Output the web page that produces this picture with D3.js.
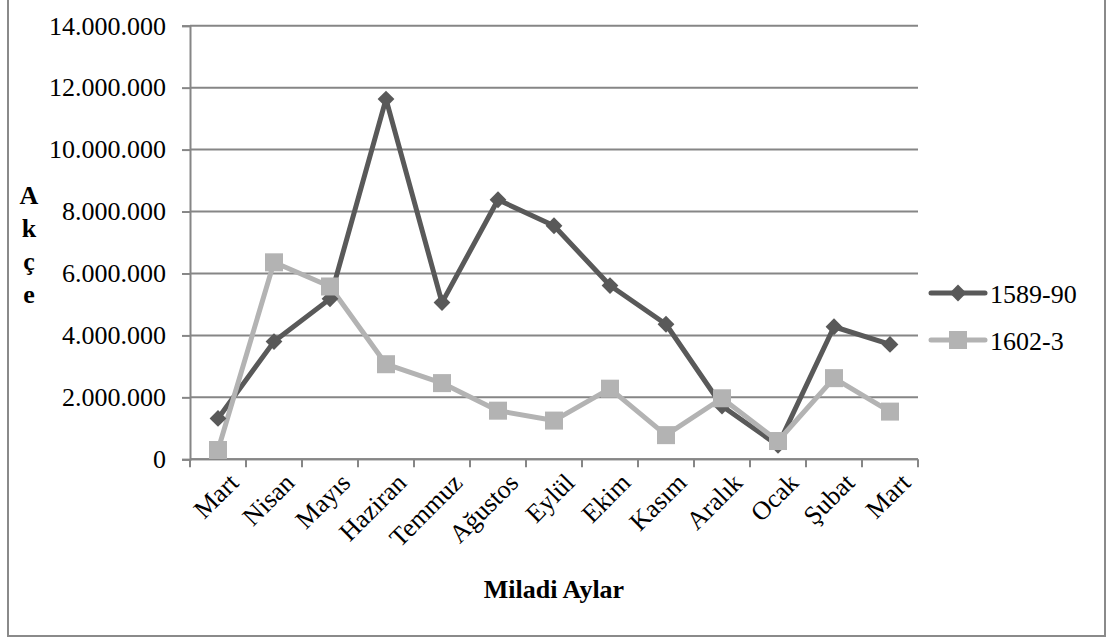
<!DOCTYPE html>
<html>
<head>
<meta charset="utf-8">
<script src="https://cdn.jsdelivr.net/npm/d3@7"></script>
<style>
  html, body { margin: 0; padding: 0; background: #fff; }
  svg { display: block; font-family: "Liberation Serif", "Times New Roman", serif; }
</style>
</head>
<body>
<svg id="chart" width="1109" height="640"></svg>
<script>
const months = ["Mart", "Nisan", "Mayıs", "Haziran", "Temmuz", "Ağustos", "Eylül", "Ekim", "Kasım", "Aralık", "Ocak", "Şubat", "Mart"];
const series1Name = "1589-90";
const series1 = [1320000, 3800000, 5180000, 11630000, 5060000, 8380000, 7540000, 5610000, 4360000, 1720000, 450000, 4280000, 3710000];
const series2Name = "1602-3";
const series2 = [300000, 6360000, 5580000, 3070000, 2460000, 1570000, 1250000, 2280000, 780000, 1970000, 590000, 2620000, 1540000];
const yTicks = [0, 2000000, 4000000, 6000000, 8000000, 10000000, 12000000, 14000000];
const yTitle = ["A", "k", "ç", "e"];
const xTitle = "Miladi Aylar";

const svg = d3.select("#chart");
const gridColor = "#868686";
const c1 = "#595959", c2 = "#b3b3b3";

// outer frame
svg.append("rect").attr("x", 8).attr("y", -5).attr("width", 1097).attr("height", 641)
  .attr("fill", "none").attr("stroke", "#8a8a8a").attr("stroke-width", 2);

const idx = d3.range(months.length);
const x = d3.scaleBand().domain(idx).range([190, 918]).paddingInner(0).paddingOuter(0);
const y = d3.scaleLinear().domain([0, 14000000]).range([459.3, 25.7]);

const loc = d3.formatLocale({decimal: ",", thousands: ".", grouping: [3], currency: ["", ""]});
const fmt = loc.format(",d");

// gridlines
svg.append("g").selectAll("line").data(yTicks).join("line")
  .attr("x1", 190).attr("x2", 918)
  .attr("y1", d => y(d)).attr("y2", d => y(d))
  .attr("stroke", gridColor).attr("stroke-width", 2);

// y axis
const yAxis = svg.append("g").attr("transform", "translate(190,0)")
  .call(d3.axisLeft(y).tickValues(yTicks).tickFormat(fmt).tickSize(8).tickPadding(16));
yAxis.select(".domain").attr("stroke", gridColor).attr("stroke-width", 2);
yAxis.selectAll(".tick line").attr("stroke", gridColor).attr("stroke-width", 2);
yAxis.selectAll(".tick text").attr("font-size", 26).attr("fill", "#000")
  .attr("font-family", "Liberation Serif, serif");

// x axis (ticks at band boundaries)
const xg = svg.append("g");
xg.append("line").attr("x1", 190).attr("x2", 918).attr("y1", y(0)).attr("y2", y(0))
  .attr("stroke", gridColor).attr("stroke-width", 2);
const bounds = idx.map(i => x(i)).concat([x(idx[idx.length - 1]) + x.bandwidth()]);
xg.selectAll("line.tk").data(bounds).join("line").attr("class", "tk")
  .attr("x1", d => d).attr("x2", d => d).attr("y1", y(0)).attr("y2", y(0) + 8)
  .attr("stroke", gridColor).attr("stroke-width", 2);
xg.selectAll("text").data(idx).join("text")
  .attr("transform", i => `translate(${x(i) + x.bandwidth() / 2 + 22},${y(0) + 25}) rotate(-45)`)
  .attr("text-anchor", "end")
  .attr("font-size", 26).attr("fill", "#000")
  .text(i => months[i]);

// axis titles
svg.append("text").attr("x", 554).attr("y", 598).attr("text-anchor", "middle")
  .attr("font-size", 26).attr("font-weight", "bold").text(xTitle);
svg.append("g").selectAll("text").data(yTitle).join("text")
  .attr("x", 29).attr("y", (d, i) => 204 + i * 33).attr("text-anchor", "middle")
  .attr("font-size", 26).attr("font-weight", "bold").text(d => d);

const cx = i => x(i) + x.bandwidth() / 2;
const line = d3.line().x((d, i) => cx(i)).y(d => y(d));

// series 1 line
svg.append("path").datum(series1).attr("d", line).attr("fill", "none")
  .attr("stroke", c1).attr("stroke-width", 5).attr("stroke-linejoin", "round");
// series 2 line
svg.append("path").datum(series2).attr("d", line).attr("fill", "none")
  .attr("stroke", c2).attr("stroke-width", 5).attr("stroke-linejoin", "round");

const diamond = d3.symbol().type(d3.symbolDiamond2).size(180);
svg.append("g").selectAll("path").data(series1).join("path")
  .attr("d", diamond)
  .attr("transform", (d, i) => `translate(${cx(i)},${y(d)})`)
  .attr("fill", c1);
svg.append("g").selectAll("rect").data(series2).join("rect")
  .attr("x", (d, i) => cx(i) - 9).attr("y", d => y(d) - 9)
  .attr("width", 18).attr("height", 18).attr("fill", c2);

// legend
const leg = [{name: series1Name, color: c1, type: "d", y: 293}, {name: series2Name, color: c2, type: "s", y: 340}];
const lg = svg.append("g").selectAll("g").data(leg).join("g");
lg.append("line").attr("x1", 931).attr("x2", 985).attr("y1", d => d.y).attr("y2", d => d.y)
  .attr("stroke", d => d.color).attr("stroke-width", 5).attr("stroke-linecap", "round");
lg.filter(d => d.type === "d").append("path").attr("d", diamond)
  .attr("transform", d => `translate(958,${d.y})`).attr("fill", d => d.color);
lg.filter(d => d.type === "s").append("rect").attr("x", 949).attr("y", d => d.y - 9)
  .attr("width", 18).attr("height", 18).attr("fill", d => d.color);
lg.append("text").attr("x", 990).attr("y", d => d.y + 10).attr("font-size", 26).text(d => d.name);
</script>
</body>
</html>
